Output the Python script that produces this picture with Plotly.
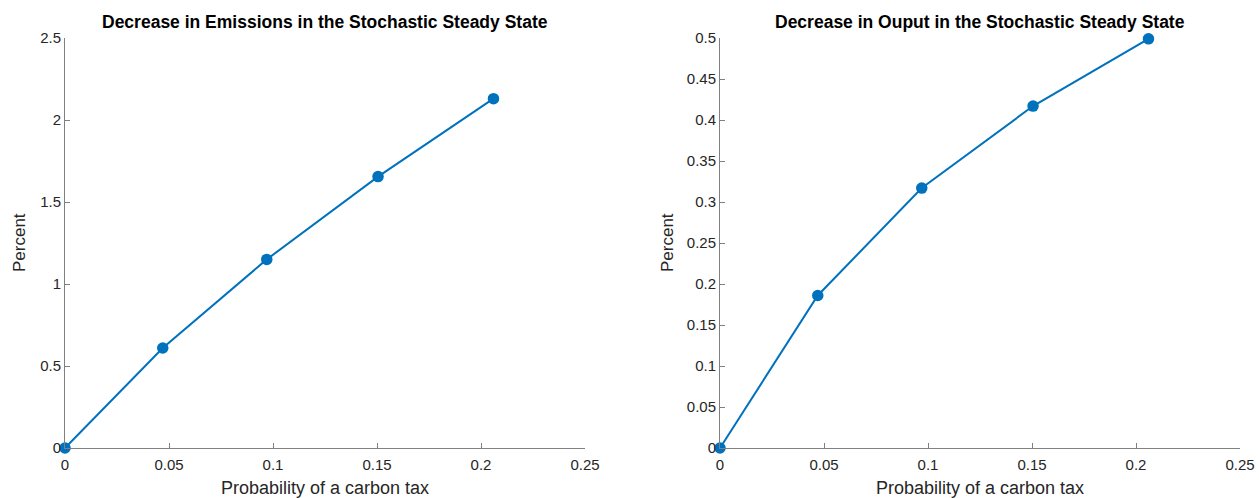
import plotly.graph_objects as go

prob = [0, 0.047, 0.097, 0.1505, 0.206]
emissions = [0, 0.61, 1.15, 1.655, 2.13]
output = [0, 0.186, 0.317, 0.417, 0.499]

x_ticks = [0, 0.05, 0.1, 0.15, 0.2, 0.25]
x_tick_labels = ["0", "0.05", "0.1", "0.15", "0.2", "0.25"]
y1_ticks = [0, 0.5, 1, 1.5, 2, 2.5]
y1_tick_labels = ["0", "0.5", "1", "1.5", "2", "2.5"]
y2_ticks = [0, 0.05, 0.1, 0.15, 0.2, 0.25, 0.3, 0.35, 0.4, 0.45, 0.5]
y2_tick_labels = ["0", "0.05", "0.1", "0.15", "0.2", "0.25", "0.3", "0.35", "0.4", "0.45", "0.5"]

titles = ["Decrease in Emissions in the Stochastic Steady State",
          "Decrease in Ouput in the Stochastic Steady State"]
x_title = "Probability of a carbon tax"
y_title = "Percent"

color = "#0072BD"
W, H = 1259, 498
fnt = "Liberation Sans, Arial, sans-serif"

fig = go.Figure()
for i, ys in enumerate([emissions, output]):
    fig.add_trace(go.Scatter(
        x=prob, y=ys, mode="lines+markers",
        line=dict(color=color, width=2),
        marker=dict(color=color, size=11.5),
        xaxis="x" if i == 0 else "x2",
        yaxis="y" if i == 0 else "y2",
        cliponaxis=False, showlegend=False))

y_dom = [(H - 448) / H, (H - 38) / H]
x1_dom = [65 / W, 585 / W]
x2_dom = [720 / W, 1240 / W]

axis_common = dict(showline=True, linecolor="#808080", linewidth=1,
                   ticks="inside", ticklen=5, tickcolor="#808080",
                   showgrid=False, zeroline=False, automargin=False,
                   tickfont=dict(family=fnt, size=15, color="#262626"))

fig.update_layout(
    width=W, height=H,
    margin=dict(l=0, r=0, t=0, b=0),
    plot_bgcolor="white", paper_bgcolor="white",
    xaxis=dict(domain=x1_dom, range=[0, 0.25], tickvals=x_ticks, ticktext=x_tick_labels,
               anchor="y", ticklabelstandoff=3, **axis_common),
    yaxis=dict(domain=y_dom, range=[0, 2.5], tickvals=y1_ticks, ticktext=y1_tick_labels,
               anchor="x", **axis_common),
    xaxis2=dict(domain=x2_dom, range=[0, 0.25], tickvals=x_ticks, ticktext=x_tick_labels,
                anchor="y2", ticklabelstandoff=3, **axis_common),
    yaxis2=dict(domain=y_dom, range=[0, 0.5], tickvals=y2_ticks, ticktext=y2_tick_labels,
                anchor="x2", **axis_common),
)

anns = []
for dom, t in zip([x1_dom, x2_dom], titles):
    cx = (dom[0] + dom[1]) / 2
    anns.append(dict(text="<b>" + t + "</b>", x=cx, y=(H - 22) / H, xref="paper", yref="paper",
                     showarrow=False, font=dict(family=fnt, size=17.5, color="black"),
                     xanchor="center", yanchor="middle"))
    anns.append(dict(text=x_title, x=cx, y=(H - 488) / H, xref="paper", yref="paper",
                     showarrow=False, font=dict(family=fnt, size=18, color="#262626"),
                     xanchor="center", yanchor="middle"))
for xp in [20, 668]:
    anns.append(dict(text=y_title, x=xp / W, y=(H - 243) / H, xref="paper", yref="paper",
                     showarrow=False, textangle=-90, font=dict(family=fnt, size=17, color="#262626"),
                     xanchor="center", yanchor="middle"))
fig.update_layout(annotations=anns)

fig.write_html("out.html", config={"displayModeBar": False},
               post_script="document.body.style.margin='0';document.body.style.overflow='hidden';")
